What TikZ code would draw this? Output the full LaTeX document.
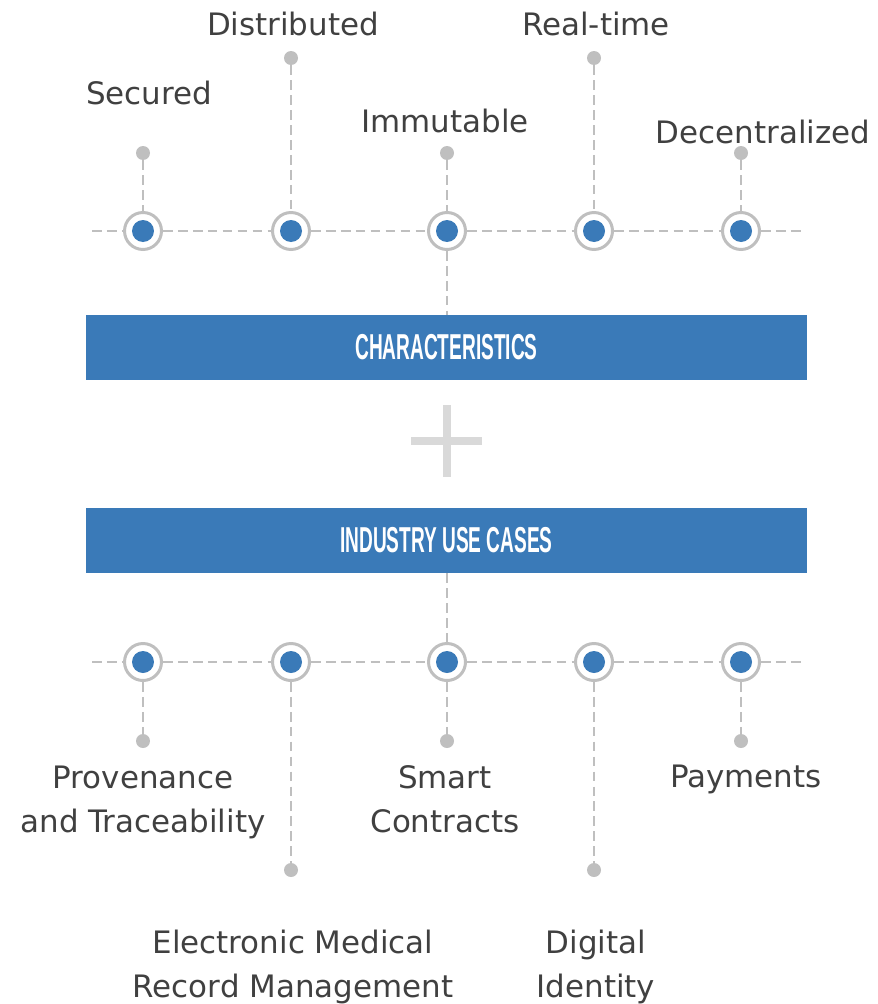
\documentclass[tikz,border=0pt]{standalone}
\usepackage{fontspec}
\setmainfont{DejaVu Sans}
\newfontfamily\barfont{Liberation Sans}
\usetikzlibrary{positioning}
\definecolor{barblue}{HTML}{3A7AB8}
\definecolor{linegray}{HTML}{BFBFBF}
\definecolor{plusgray}{HTML}{D9D9D9}
\definecolor{textgray}{HTML}{404040}
\tikzset{
    ring/.style={circle, draw=linegray, line width=1.7pt, fill=white, minimum size=0.74cm, inner sep=0pt},
    tipdot/.style={circle, fill=linegray, minimum size=0.28cm, inner sep=0pt},
    link/.style={draw=linegray, line width=1.3pt, dash pattern=on 5.5pt off 3pt},
    lbl/.style={text=textgray, font=\fontsize{17.6}{25}\selectfont, align=center, inner sep=0pt, anchor=base},
    bar/.style={fill=barblue, minimum width=14.42cm, minimum height=1.3cm, inner sep=0pt, text=white, font=\barfont\bfseries\fontsize{20.5}{20}\selectfont}
}

\begin{document}
\begin{tikzpicture}[x=0.02cm, y=-0.02cm]
    \useasboundingbox (0,0) rectangle (877,1004);

    % the two bars and the plus
    \node[bar] (char) at (446.5,347.5) {\scalebox{0.53}[1]{CHARACTERISTICS}};
    \node[bar] (uses) at (446.5,540.5) {\scalebox{0.53}[1]{INDUSTRY USE CASES}};
    \fill[plusgray] (411,437) rectangle (482,445);
    \fill[plusgray] (442.5,405) rectangle (450.5,477);

    % characteristics row
    \coordinate (tl) at (92,231);
    \coordinate (tr) at (803,231);
    \foreach \i/\x/\h in {1/143/153, 2/291/58, 3/447/153, 4/594/58, 5/741/153}
    {
        \node[ring] (t\i) at (\x,231) {};
        \fill[barblue] (t\i) circle (0.22cm);
        \node[tipdot] (ts\i) at (\x,\h) {};
        \path[link] (ts\i) -- (t\i);
    }
    \path[link] (tl) -- (t1) -- (t2) -- (t3) -- (t4) -- (t5) -- (tr);
    \path[link] (t3) -- (t3 |- char.north);

    % use case row
    \coordinate (bl) at (92,662);
    \coordinate (br) at (803,662);
    \foreach \i/\x/\h in {1/143/741, 2/291/870, 3/447/741, 4/594/870, 5/741/741}
    {
        \node[ring] (b\i) at (\x,662) {};
        \fill[barblue] (b\i) circle (0.22cm);
        \node[tipdot] (bs\i) at (\x,\h) {};
        \path[link] (b\i) -- (bs\i);
    }
    \path[link] (bl) -- (b1) -- (b2) -- (b3) -- (b4) -- (b5) -- (br);
    \path[link] (uses.south -| b3) -- (b3);

    % labels
    \node[lbl] (secured) at (149,104) {Secured};
    \node[lbl] (distributed) at (293,35) {Distributed};
    \node[lbl] (immutable) at (445,132) {Immutable};
    \node[lbl] (realtime) at (596,35) {Real-time};
    \node[lbl] (decentral) at (763,143) {Decentralized};

    \node[lbl] (provenance) at (143,832) {Provenance\\and Traceability};
    \node[lbl] (smart) at (445,832) {Smart\\Contracts};
    \node[lbl] (payments) at (746,787) {Payments};
    \node[lbl] (medical) at (293,997) {Electronic Medical\\Record Management};
    \node[lbl] (identity) at (596,997) {Digital\\Identity};
\end{tikzpicture}
\end{document}
